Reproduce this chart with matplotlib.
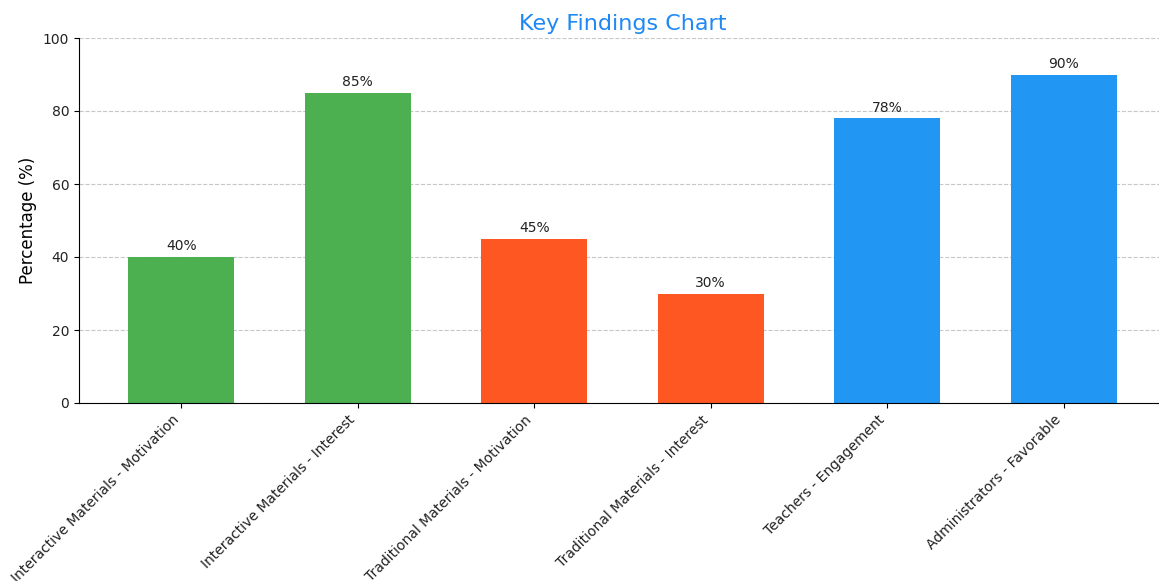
import matplotlib
matplotlib.use("Agg")
import matplotlib.pyplot as plt

categories = [
    "Interactive Materials - Motivation",
    "Interactive Materials - Interest",
    "Traditional Materials - Motivation",
    "Traditional Materials - Interest",
    "Teachers - Engagement",
    "Administrators - Favorable",
]
values = [40, 85, 45, 30, 78, 90]
colors = ["#4CAF50", "#4CAF50", "#FF5722", "#FF5722", "#2196F3", "#2196F3"]

fig = plt.figure(figsize=(11.59, 5.81), dpi=100)
ax = fig.add_axes([79 / 1159, 1 - 403 / 581, (1166 - 79) / 1159, (403 - 38) / 581])

x = range(len(categories))
bars = ax.bar(x, values, color=colors, width=0.6, zorder=2)
for b, v in zip(bars, values):
    ax.text(b.get_x() + b.get_width() / 2, v + 1, f"{v}%",
            ha="center", va="bottom", fontsize=10, color="#222222")

ax.set_ylim(0, 100)
ax.set_xticks(list(x))
ax.set_xticklabels(categories, rotation=45, ha="right", fontsize=10, color="#222222")
ax.tick_params(axis="y", labelcolor="#222222")
ax.set_ylabel("Percentage (%)", fontsize=12)
ax.set_title("Key Findings Chart", fontsize=16, color="#1E88F5")
ax.yaxis.grid(True, linestyle="--", alpha=0.7, zorder=0)
ax.spines["top"].set_visible(False)
ax.spines["right"].set_visible(False)

fig.savefig("out.png", dpi=100)
